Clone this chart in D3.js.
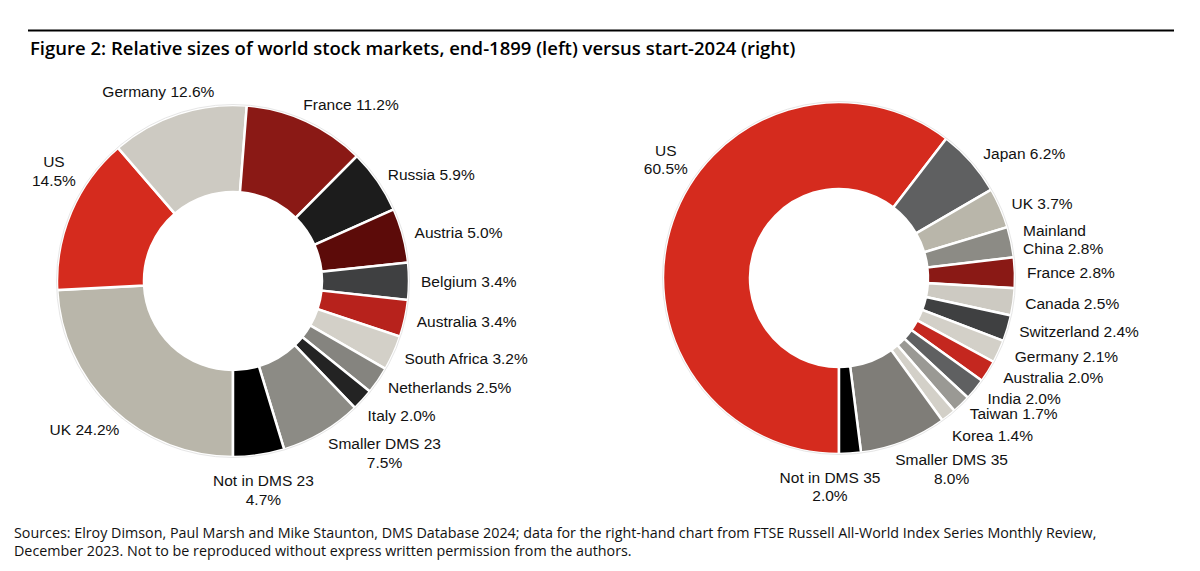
<!DOCTYPE html>
<html>
<head>
<meta charset="utf-8">
<script src="https://d3js.org/d3.v7.min.js"></script>
<style>
  body { margin: 0; background: #fff; }
  svg { display: block; }
  .lbl { font-family: "Liberation Sans", Arial, sans-serif; font-size: 15.5px; fill: #111; }
  .title { font-family: "Open Sans", sans-serif; font-size: 18.5px; font-weight: 600; fill: #000; }
  .src { font-family: "Open Sans", sans-serif; font-size: 14.3px; fill: #111; }
</style>
</head>
<body>
<script>
// end-1899 (left)
const leftNames = ["UK", "US", "Germany", "France", "Russia", "Austria", "Belgium", "Australia",
    "South Africa", "Netherlands", "Italy", "Smaller DMS 23", "Not in DMS 23"];
const leftValues = [24.2, 14.5, 12.6, 11.2, 5.9, 5.0, 3.4, 3.4, 3.2, 2.5, 2.0, 7.5, 4.7];
const leftColors = ["#b9b6aa", "#d52b1e", "#cdcac2", "#8a1915", "#1c1c1c", "#5c0b09", "#3f4041",
    "#b7221c", "#d3d0c8", "#85847f", "#232323", "#8c8b85", "#000000"];

// start-2024 (right)
const rightNames = ["US", "Japan", "UK", "Mainland\nChina", "France", "Canada", "Switzerland", "Germany",
    "Australia", "India", "Taiwan", "Korea", "Smaller DMS 35", "Not in DMS 35"];
const rightValues = [60.5, 6.2, 3.7, 2.8, 2.8, 2.5, 2.4, 2.1, 2.0, 2.0, 1.7, 1.4, 8.0, 2.0];
const rightColors = ["#d52b1e", "#5f6061", "#b9b6aa", "#8c8b85", "#8a1915", "#cdcac2", "#3f4041",
    "#d3d0c8", "#c4271f", "#5f6061", "#9a9994", "#d3d0c8", "#7f7d78", "#000000"];

// labels printed as "name / value" on two lines
const leftStacked = ["US", "Smaller DMS 23", "Not in DMS 23"];
const rightStacked = ["US", "Smaller DMS 35", "Not in DMS 35"];

// hand placement of a few labels, as in the original
const leftNudge = {"UK": [16, 12], "US": [16, -36], "Germany": [-10, 7], "France": [-8, -6],
    "Italy": [-4, 7], "Smaller DMS 23": [0, 10], "Not in DMS 23": [0, 4]};
const rightNudge = {"US": [27, -58], "Japan": [3, 0], "Germany": [5, 0], "Australia": [5, 0],
    "India": [3, 1], "Korea": [-4, 10], "Smaller DMS 35": [-13, 16], "Not in DMS 35": [-22, 2]};

const width = 1200, height = 571;
const outerR = 176, innerR = 89, lineH = 18.5;

const svg = d3.select("body").append("svg")
    .attr("width", width).attr("height", height);

svg.append("line")
    .attr("x1", 28).attr("x2", 1174).attr("y1", 30.5).attr("y2", 30.5)
    .attr("stroke", "#000").attr("stroke-width", 2);
svg.append("text").attr("class", "title")
    .attr("x", 30).attr("y", 55)
    .text("Figure 2: Relative sizes of world stock markets, end-1899 (left) versus start-2024 (right)");

svg.append("text").attr("class", "src").attr("x", 14).attr("y", 538)
    .text("Sources: Elroy Dimson, Paul Marsh and Mike Staunton, DMS Database 2024; data for the right-hand chart from FTSE Russell All-World Index Series Monthly Review,");
svg.append("text").attr("class", "src").attr("x", 14).attr("y", 556)
    .text("December 2023. Not to be reproduced without express written permission from the authors.");

function donut(cx, cy, names, values, colors, stacked, nudge) {
    let rows = names.map((n, i) => ({name: n, value: values[i], color: colors[i]}));
    let pie = d3.pie().sort(null).value(d => d.value)
        .startAngle(Math.PI).endAngle(3 * Math.PI);
    let arc = d3.arc().innerRadius(innerR).outerRadius(outerR);
    let arcs = pie(rows);

    let g = svg.append("g").attr("transform", `translate(${cx},${cy})`);
    g.selectAll("path")
        .data(arcs)
        .enter()
        .append("path")
        .attr("d", arc)
        .attr("fill", d => d.data.color)
        .attr("stroke", "#fff")
        .attr("stroke-width", 2.5)
        .attr("stroke-linejoin", "miter");
    g.append("circle").attr("r", outerR + 0.5)
        .attr("fill", "none").attr("stroke", "#e6e6e6").attr("stroke-width", 1);

    arcs.forEach(function(a) {
        let name = a.data.name;
        let val = a.data.value.toFixed(1) + "%";
        let lines;
        let leftAlign = false;
        if (name.includes("\n")) {
            let parts = name.split("\n");
            lines = [parts[0], parts[1] + " " + val];
            leftAlign = true;
        } else if (stacked.includes(name)) {
            lines = [name, val];
        } else {
            lines = [name + " " + val];
        }
        let mid = (a.startAngle + a.endAngle) / 2;
        let s = Math.sin(mid), c = Math.cos(mid);
        let anchor = s > 0.35 ? "start" : (s < -0.35 ? "end" : "middle");
        let r = anchor == "middle" ? outerR + 31 : outerR + 12;
        let nd = nudge[name] || [0, 0];
        let px = s * r + nd[0];
        let py = -c * r + nd[1];

        let lg = g.append("g");
        let t = lg.append("text").attr("class", "lbl")
            .attr("text-anchor", leftAlign ? "start" : "middle");
        lines.forEach(function(l, i) {
            t.append("tspan")
                .attr("x", 0)
                .attr("y", (i - (lines.length - 1) / 2) * lineH + 5.5)
                .text(l);
        });
        let bb = t.node().getBBox();
        let ox;
        if (anchor == "start") ox = px - bb.x;
        else if (anchor == "end") ox = px - (bb.x + bb.width);
        else ox = px - (bb.x + bb.width / 2);
        lg.attr("transform", `translate(${ox},${py})`);
    });
}

donut(233, 281, leftNames, leftValues, leftColors, leftStacked, leftNudge);
donut(839, 278, rightNames, rightValues, rightColors, rightStacked, rightNudge);
</script>
</body>
</html>
